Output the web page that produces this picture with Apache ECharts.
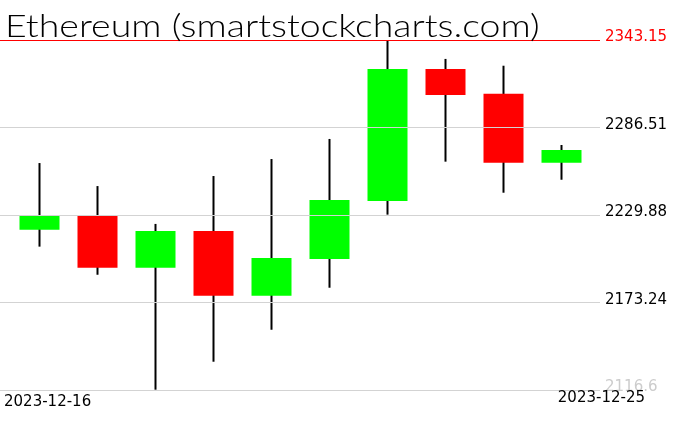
<!DOCTYPE html>
<html>
<head>
<meta charset="utf-8">
<script src="https://cdn.jsdelivr.net/npm/echarts@6/dist/echarts.min.js"></script>
<style>
html,body{margin:0;padding:0;background:#fff;}
#chart{width:676px;height:431px;}
</style>
</head>
<body>
<div id="chart"></div>
<script>
const titleText = 'Ethereum (smartstockcharts.com)';
const dates = ['2023-12-16','2023-12-17','2023-12-18','2023-12-19','2023-12-20','2023-12-21','2023-12-22','2023-12-23','2023-12-24','2023-12-25'];
const openV  = [2220.4, 2229.2, 2195.8, 2219.5, 2177.6, 2201.4, 2238.9, 2324.4, 2308.4, 2263.7];
const closeV = [2229.2, 2195.8, 2219.5, 2177.6, 2202.0, 2239.6, 2324.4, 2307.5, 2263.7, 2272.0];
const lowV   = [2209.4, 2191.2, 2116.8, 2134.9, 2155.6, 2182.8, 2230.1, 2264.4, 2244.3, 2252.7];
const highV  = [2263.5, 2248.6, 2224.1, 2255.1, 2266.1, 2279.1, 2343.15, 2330.9, 2326.5, 2275.2];
const yTicks = [2116.6, 2173.24, 2229.88, 2286.51, 2343.15];
const yTickLabels = ['2116.6', '2173.24', '2229.88', '2286.51', '2343.15'];
const yTickColors = ['#cccccc', '#000000', '#000000', '#000000', '#ff0000'];
const splitColors = ['#d3d3d3', '#d3d3d3', '#d3d3d3', '#d3d3d3', '#ff0000'];

const yMin = yTicks[0], yMax = yTicks[yTicks.length - 1];
const wickData = dates.map((d, i) => [openV[i], closeV[i], lowV[i], highV[i]]);
const bodyData = dates.map((d, i) => [openV[i], closeV[i], Math.min(openV[i], closeV[i]), Math.max(openV[i], closeV[i])]);

const FONT = 'DejaVu Sans';
const chart = echarts.init(document.getElementById('chart'), null, {renderer: 'canvas'});
chart.setOption({
  animation: false,
  backgroundColor: '#ffffff',
  grid: [
    {left: 0, right: 76, top: 40, bottom: 41},
    {left: 10.3, right: 85.7, top: 40, bottom: 41}
  ],
  xAxis: [
    {type: 'value', gridIndex: 0, min: 0, max: 1, show: false},
    {type: 'category', gridIndex: 1, data: dates, boundaryGap: true, show: false}
  ],
  yAxis: [
    {
      type: 'value', gridIndex: 0, position: 'right', min: yMin, max: yMax, z: 10,
      axisLine: {show: false}, axisTick: {show: false, customValues: yTicks},
      splitLine: {show: true, lineStyle: {color: splitColors, width: 1}},
      axisLabel: {
        customValues: yTicks, margin: 5, align: 'left', verticalAlign: 'bottom', lineHeight: 5,
        fontFamily: FONT, fontSize: 15,
        formatter: function (v) {
          const k = yTicks.findIndex(t => Math.abs(t - v) < 1e-6);
          return k >= 0 ? yTickLabels[k] : '';
        },
        color: function (v) {
          const k = yTicks.findIndex(t => Math.abs(t - v) < 1e-6);
          return k >= 0 ? yTickColors[k] : '#000';
        }
      }
    },
    {type: 'value', gridIndex: 1, min: yMin, max: yMax, show: false, splitLine: {show: false}}
  ],
  graphic: [
    {type: 'text', x: 5, y: 11, scaleX: 1.21, z: 100,
      style: {text: titleText, font: '300 31px "Lato", "DejaVu Sans"', fill: '#000'}},
    {type: 'text', left: 4, top: 395, z: 100,
      style: {text: dates[0], font: '15px "DejaVu Sans"', fill: '#000'}},
    {type: 'text', right: 31, top: 391, z: 100,
      style: {text: dates[dates.length - 1], font: '15px "DejaVu Sans"', fill: '#000'}}
  ],
  series: [
    {
      type: 'candlestick', xAxisIndex: 1, yAxisIndex: 1, barWidth: 1,
      itemStyle: {color: '#000', color0: '#000', borderColor: '#000', borderColor0: '#000', borderWidth: 2},
      data: wickData, z: 2
    },
    {
      type: 'candlestick', xAxisIndex: 1, yAxisIndex: 1, barWidth: 40,
      itemStyle: {color: '#00ff00', color0: '#ff0000', borderColor: '#00ff00', borderColor0: '#ff0000', borderWidth: 0},
      data: bodyData, z: 3
    }
  ]
});
</script>
</body>
</html>
